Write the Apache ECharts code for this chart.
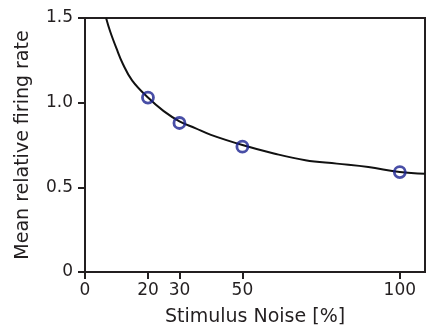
<!DOCTYPE html>
<html><head><meta charset="utf-8">
<script src="https://cdn.jsdelivr.net/npm/echarts@6/dist/echarts.min.js"></script>
<style>html,body{margin:0;padding:0;background:#fff}#c{width:438px;height:329px}</style>
</head><body><div id="c"></div>
<script>
const curveX = [6.7, 8, 10, 12, 15, 20, 25, 30, 35, 40, 50, 60, 70, 80, 90, 100, 108];
const curveY = [1.5, 1.42, 1.32, 1.23, 1.13, 1.03, 0.95, 0.89, 0.85, 0.81, 0.75, 0.70, 0.66, 0.64, 0.62, 0.59, 0.58];
const pointX = [20, 30, 50, 100];
const pointY = [1.03, 0.88, 0.74, 0.59];
const xTicks = [0, 20, 30, 50, 100];
const yTicks = [0, 0.5, 1.0, 1.5];

const chart = echarts.init(document.getElementById('c'));
const font = 'DejaVu Sans';
const txt = '#231f20';
chart.setOption({
  animation: false,
  grid: {left: 85, top: 18, right: 13, bottom: 57, containLabel: false, outerBoundsMode: 'none',
         show: true, borderColor: txt, borderWidth: 2, backgroundColor: 'transparent'},
  xAxis: {
    type: 'value', min: 0, max: 108,
    name: 'Stimulus Noise [%]', nameLocation: 'middle', nameGap: 36,
    nameTextStyle: {fontFamily: font, fontSize: 19, color: txt},
    axisLine: {show: true, lineStyle: {color: txt, width: 2}},
    axisTick: {show: true, inside: false, length: 7, lineStyle: {color: txt, width: 2}, customValues: xTicks},
    axisLabel: {customValues: xTicks, fontFamily: font, fontSize: 17, color: txt, margin: 10},
    splitLine: {show: false}
  },
  yAxis: {
    type: 'value', min: 0, max: 1.5, interval: 0.5,
    name: 'Mean relative firing rate', nameLocation: 'middle', nameGap: 52,
    nameTextStyle: {fontFamily: font, fontSize: 19, color: txt},
    axisLine: {show: true, lineStyle: {color: txt, width: 2}},
    axisTick: {show: true, inside: false, length: 7, lineStyle: {color: txt, width: 2}},
    axisLabel: {fontFamily: font, fontSize: 17, color: txt, margin: 12,
      formatter: v => v === 0 ? '0' : v.toFixed(1)},
    splitLine: {show: false}
  },
  series: [
    {type: 'line', data: curveX.map((x, i) => [x, curveY[i]]), smooth: 0.4, showSymbol: false,
     lineStyle: {color: '#111', width: 2}, z: 2},
    {type: 'scatter', data: pointX.map((x, i) => [x, pointY[i]]), symbol: 'circle', symbolSize: 11,
     itemStyle: {color: 'rgba(0,0,0,0)', borderColor: '#1a2290', borderWidth: 2.8}, z: 3}
  ]
});
</script></body></html>
